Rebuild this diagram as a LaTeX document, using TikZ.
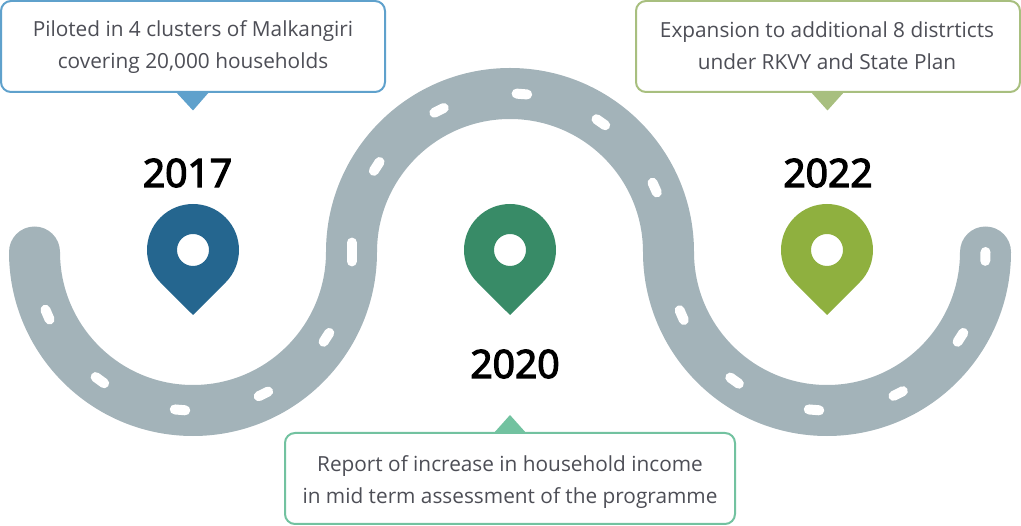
\documentclass[tikz,border=0pt]{standalone}
\usepackage{fontspec}
\setmainfont{Open Sans}
\newfontfamily\yearfont[FakeBold=3.4]{Open Sans}
\definecolor{road}{HTML}{A3B3B9}
\definecolor{txt}{HTML}{4D4E56}
\definecolor{pinblue}{HTML}{25668F}
\definecolor{pingreen}{HTML}{388B67}
\definecolor{pinolive}{HTML}{8FB03F}
\definecolor{cblue}{HTML}{5FA1CC}
\definecolor{cgreen}{HTML}{72C2A0}
\definecolor{colive}{HTML}{A8BF7F}
\tikzset{
  callout/.style={draw=#1,line width=2pt,rounded corners=10pt,fill=white,inner sep=0pt},
  calltext/.style={text=txt,align=center,font=\fontsize{20.8}{32}\selectfont,inner sep=0pt},
  yearlabel/.style={text=black,font=\fontsize{39}{39}\yearfont,inner sep=0pt},
  roadline/.style={draw=road,line width=51pt,line cap=round},
  lanemark/.style={draw=white,line width=10pt,line cap=round}
}
\newcommand{\lanedash}[4]{% cx cy angle halfwidth
  \draw[lanemark] ({#1+158.5*cos(#3-#4)},{#2+158.5*sin(#3-#4)}) -- ({#1+158.5*cos(#3+#4)},{#2+158.5*sin(#3+#4)});}
\newcommand{\mappin}[3]{%
  \fill[#3,even odd rule] (#1,#2) ++(135:46) arc[start angle=135,end angle=405,radius=46] -- (#1,#2+65) -- cycle
    (#1,#2) circle[radius=16];}
\begin{document}
\begin{tikzpicture}[x=1pt,y=-1pt]
\useasboundingbox (0,0) rectangle (1021,526);
\draw[roadline] (34.5,252) arc[start angle=180,end angle=0,radius=158.5]
  arc[start angle=180,end angle=360,radius=158.5]
  arc[start angle=180,end angle=0,radius=158.5];
\foreach \a in {156.7,126,94.7,63.6,32.6}{\lanedash{193}{252}{\a}{1.9}}
\lanedash{510}{252}{180}{3.4}
\foreach \a in {212.7,243.4,274.3,305,336}{\lanedash{510}{252}{\a}{1.9}}
\foreach \a in {156.5,125.7,94.7,63.3,32.6}{\lanedash{827}{252}{\a}{1.9}}
\lanedash{827}{252}{1.6}{1.6}
\mappin{193}{250}{pinblue}
\mappin{510}{250}{pingreen}
\mappin{827}{250}{pinolive}
\fill[cblue] (175,91) -- (210,91) -- (193,110.5) -- cycle;
\fill[colive] (810,91) -- (845,91) -- (827.5,110.5) -- cycle;
\fill[cgreen] (493,434) -- (527,434) -- (510,415) -- cycle;
\node[callout=cblue,minimum width=384pt,minimum height=91pt] (c1) at (193,46.5) {};
\node[callout=colive,minimum width=384pt,minimum height=91pt] (c3) at (828,46.5) {};
\node[callout=cgreen,minimum width=450pt,minimum height=91pt] (c2) at (510,478.5) {};
\node[calltext] (t1) at (193,47.5) {Piloted in 4 clusters of Malkangiri\\covering 20,000 households};
\node[calltext] (t3) at (827,45.5) {Expansion to additional 8 distrticts\\under RKVY and State Plan};
\node[calltext] (t2) at (510,482) {Report of increase in household income\\in mid term assessment of the programme};
\node[yearlabel] (y1) at (187.5,173) {2017};
\node[yearlabel] (y2) at (515,364) {2020};
\node[yearlabel] (y3) at (828,173) {2022};
\end{tikzpicture}
\end{document}
